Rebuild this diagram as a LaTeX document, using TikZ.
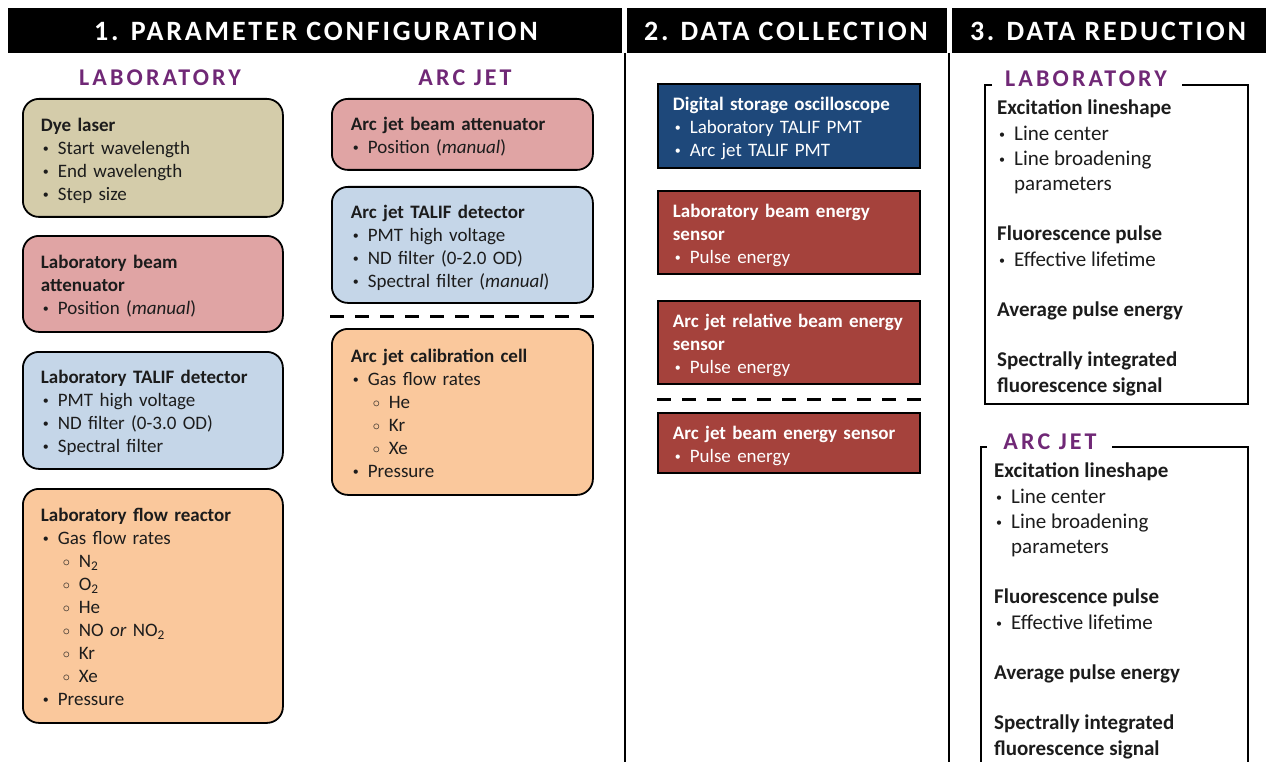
\documentclass[tikz,border=0pt]{standalone}
\usepackage{fontspec}
\setmainfont{Carlito}
\newfontfamily\hdrfam[LetterSpace=10]{Carlito}
\newfontfamily\subfam[LetterSpace=13]{Carlito}
\definecolor{purp}{RGB}{112,40,118}
\definecolor{txt}{RGB}{28,28,28}
\definecolor{tan}{RGB}{212,204,170}
\definecolor{pinkc}{RGB}{224,164,164}
\definecolor{bluec}{RGB}{197,214,232}
\definecolor{peach}{RGB}{250,200,156}
\definecolor{dblue}{RGB}{30,72,122}
\definecolor{dred}{RGB}{165,66,60}
\newcommand\bul{\hspace*{2pt}\makebox[15pt][l]{\raisebox{1.8pt}{\fontsize{12}{12}\selectfont\textbullet}}}
\newcommand\sbul{\hspace*{22pt}\makebox[16pt][l]{\raisebox{0.8pt}{\fontsize{15}{15}\selectfont$\circ$}}}
\newcommand\hang{\hspace*{17pt}}
\newcommand\tp{\rule{0pt}{21.5pt}}
\newcommand\bt{\rule[-6pt]{0pt}{6pt}}
\tikzset{
 hdr/.style={fill=black, minimum height=45pt, inner sep=0pt, anchor=north west},
 hdrtxt/.style={text=white, font=\hdrfam\bfseries\fontsize{28}{32}\selectfont},
 subhd/.style={text=purp, font=\subfam\bfseries\fontsize{24}{28}\selectfont},
 rbox/.style={draw=black, line width=1.8pt, rounded corners=16pt, anchor=north west, align=left, inner ysep=0pt, font=\fontsize{19}{23}\selectfont, text=txt},
 sbox/.style={draw=black, line width=1.8pt, anchor=north west, align=left, inner ysep=0pt, inner xsep=15pt, text width=232pt, font=\fontsize{19}{23}\selectfont\bfseries, text=white},
 dline/.style={line width=3pt, dash pattern=on 14pt off 11pt},
 framel/.style={line width=1.8pt},
 vline/.style={line width=2.5pt},
 redtxt/.style={anchor=north west, align=left, inner sep=0pt, font=\fontsize{21}{25.2}\selectfont, text=txt},
}
\begin{document}
\begin{tikzpicture}[x=1pt,y=-1pt]
\useasboundingbox (0,0) rectangle (1266,762);
% header bars
\node[hdr, minimum width=614pt] (h1) at (8,8) {};
\node[hdr, minimum width=320pt] (h2) at (627,8) {};
\node[hdr, minimum width=314pt] (h3) at (952,8) {};
\node[hdrtxt] (t1) at (316,31) {1. PARAMETER CONFIGURATION};
\node[hdrtxt] (t2) at (786,31) {2. DATA COLLECTION};
\node[hdrtxt] (t3) at (1108,31) {3. DATA REDUCTION};
% vertical separators
\coordinate (v1a) at (625,53); \coordinate (v1b) at (625,762);
\coordinate (v2a) at (949,53); \coordinate (v2b) at (949,762);
\draw[vline] (v1a) -- (v1b);
\draw[vline] (v2a) -- (v2b);
% sub headers
\node[subhd] (slab) at (160,78) {LABORATORY};
\node[subhd] (sarc) at (465,78) {ARC JET};
% left column
\node[rbox, fill=tan, minimum width=260pt, minimum height=118pt, inner xsep=18pt, text width=224pt] (dye) at (22,98)
 {\tp\textbf{Dye laser}\\\bul Start wavelength\\\bul End wavelength\\\bul Step size\bt};
\node[rbox, fill=pinkc, minimum width=260pt, minimum height=96pt, inner xsep=18pt, text width=224pt] (latt) at (22,235)
 {\tp\textbf{Laboratory beam}\\\textbf{attenuator}\\\bul Position (\textit{manual})\bt};
\node[rbox, fill=bluec, minimum width=260pt, minimum height=117pt, inner xsep=18pt, text width=224pt] (ltal) at (22,351)
 {\tp\textbf{Laboratory TALIF detector}\\\bul PMT high voltage\\\bul ND filter (0-3.0 OD)\\\bul Spectral filter\bt};
\node[rbox, fill=peach, minimum width=260pt, minimum height=234pt, inner xsep=18pt, text width=224pt] (lflow) at (22,488)
 {\tp\textbf{Laboratory flow reactor}\\\bul Gas flow rates\\\sbul N\textsubscript{2}\\\sbul O\textsubscript{2}\\\sbul He\\\sbul NO \textit{or} NO\textsubscript{2}\\\sbul Kr\\\sbul Xe\\\bul Pressure\bt};
% middle column
\node[rbox, fill=pinkc, minimum width=261pt, minimum height=71pt, inner xsep=19pt, text width=223pt] (aatt) at (331,98)
 {\tp\textbf{Arc jet beam attenuator}\\\bul Position (\textit{manual})\bt};
\node[rbox, fill=bluec, minimum width=261pt, minimum height=116pt, inner xsep=19pt, text width=223pt] (atal) at (331,186)
 {\tp\textbf{Arc jet TALIF detector}\\\bul PMT high voltage\\\bul ND filter (0-2.0 OD)\\\bul Spectral filter (\textit{manual})\bt};
\coordinate (d1a) at (330,316); \coordinate (d1b) at (594,316);
\draw[dline] (d1a) -- (d1b);
\node[rbox, fill=peach, minimum width=261pt, minimum height=166pt, inner xsep=19pt, text width=223pt] (acal) at (331,328)
 {\tp\textbf{Arc jet calibration cell}\\\bul Gas flow rates\\\sbul He\\\sbul Kr\\\sbul Xe\\\bul Pressure\bt};
% data collection
\node[sbox, fill=dblue, minimum width=262pt, minimum height=84pt] (dso) at (657,83)
 {\tp Digital storage oscilloscope\\\mdseries\bul Laboratory TALIF PMT\\\bul Arc jet TALIF PMT\bt};
\node[sbox, fill=dred, minimum width=262pt, minimum height=83pt] (lbes) at (657,190)
 {\tp Laboratory beam energy\\sensor\\\mdseries\bul Pulse energy\bt};
\node[sbox, fill=dred, minimum width=262pt, minimum height=83pt] (arbes) at (657,300)
 {\tp Arc jet relative beam energy\\sensor\\\mdseries\bul Pulse energy\bt};
\coordinate (d2a) at (657,399); \coordinate (d2b) at (921,399);
\draw[dline] (d2a) -- (d2b);
\node[sbox, fill=dred, minimum width=262pt, minimum height=60pt] (abes) at (657,412)
 {\tp Arc jet beam energy sensor\\\mdseries\bul Pulse energy\bt};
% data reduction: laboratory
\coordinate (fa1) at (992,85); \coordinate (fa2) at (985,85); \coordinate (fa3) at (985,404);
\coordinate (fa4) at (1248,404); \coordinate (fa5) at (1248,85); \coordinate (fa6) at (1182,85);
\draw[framel] (fa1) -- (fa2) -- (fa3) -- (fa4) -- (fa5) -- (fa6);
\node[subhd] (rlab) at (1086,79) {LABORATORY};
\node[redtxt] (rlabt) at (997,100)
 {\textbf{Excitation lineshape}\\\bul Line center\\\bul Line broadening\\\hang parameters\\[25.2pt]\textbf{Fluorescence pulse}\\\bul Effective lifetime\\[25.2pt]\textbf{Average pulse energy}\\[25.2pt]\textbf{Spectrally integrated}\\\textbf{fluorescence signal}};
% data reduction: arc jet
\coordinate (fb1) at (987,447); \coordinate (fb2) at (981,447); \coordinate (fb3) at (981,762);
\coordinate (fb4) at (1112,447); \coordinate (fb5) at (1248,447); \coordinate (fb6) at (1248,762);
\draw[framel] (fb1) -- (fb2) -- (fb3);
\draw[framel] (fb4) -- (fb5) -- (fb6);
\node[subhd] (rarc) at (1050,442) {ARC JET};
\node[redtxt] (rarct) at (994,463)
 {\textbf{Excitation lineshape}\\\bul Line center\\\bul Line broadening\\\hang parameters\\[25.2pt]\textbf{Fluorescence pulse}\\\bul Effective lifetime\\[25.2pt]\textbf{Average pulse energy}\\[25.2pt]\textbf{Spectrally integrated}\\\textbf{fluorescence signal}};
\end{tikzpicture}
\end{document}
